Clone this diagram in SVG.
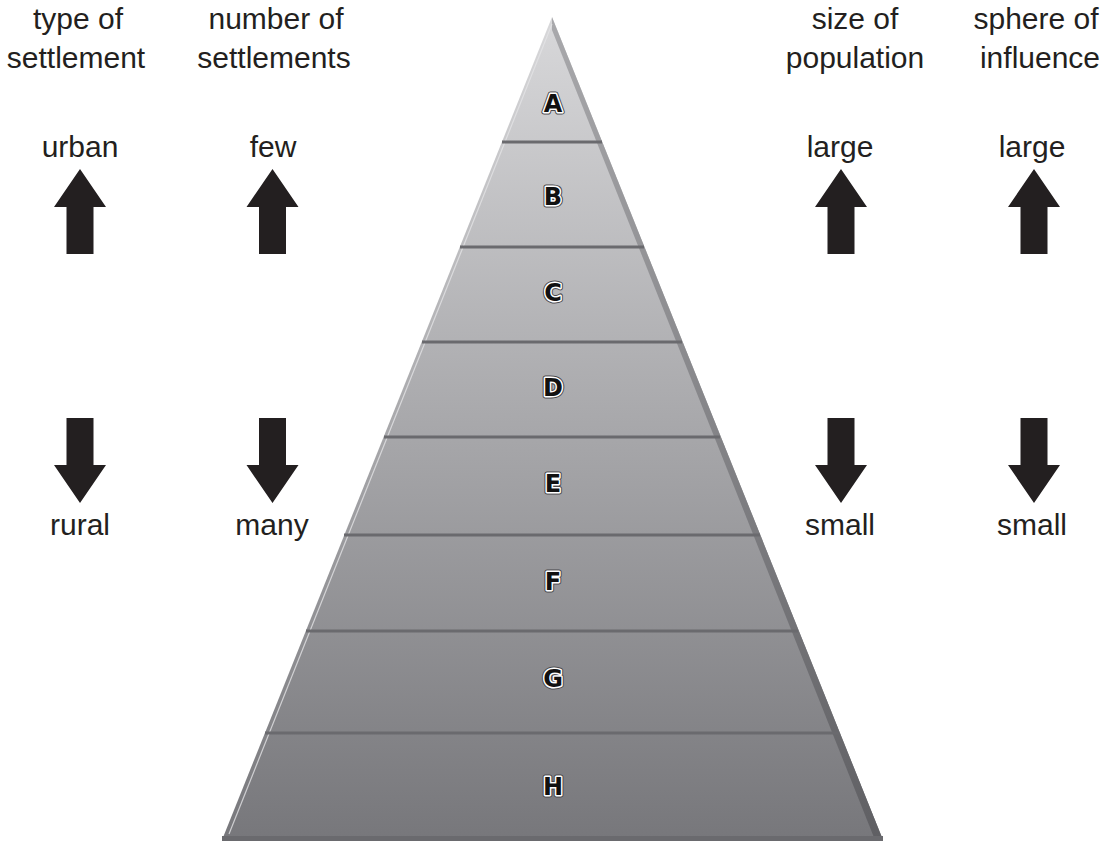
<svg xmlns="http://www.w3.org/2000/svg" width="1103" height="841" viewBox="0 0 1103 841">
  <defs>
    <linearGradient id="pyr" x1="0" y1="17" x2="0" y2="840" gradientUnits="userSpaceOnUse">
      <stop offset="0" stop-color="#d8d8da"/>
      <stop offset="1" stop-color="#77777b"/>
    </linearGradient>
    <linearGradient id="bev" x1="0" y1="17" x2="0" y2="840" gradientUnits="userSpaceOnUse">
      <stop offset="0" stop-color="#a9a9ac"/>
      <stop offset="1" stop-color="#5f5f63"/>
    </linearGradient>
    <path id="up" d="M0,0 L26,38 L13.5,38 L13.5,85 L-13.5,85 L-13.5,38 L-26,38 Z"/>
    <path id="down" d="M0,0 L26,-38 L13.5,-38 L13.5,-85 L-13.5,-85 L-13.5,-38 L-26,-38 Z"/>
  </defs>
  <style>
    .t { font-family: "Liberation Sans", Arial, sans-serif; font-size: 30px; fill: #231f20; text-anchor: middle; }
    .lbl { font-family: "DejaVu Sans", "Liberation Sans", sans-serif; font-size: 24px; font-weight: bold; text-anchor: middle; fill: #111; stroke: #fff; stroke-width: 3; paint-order: stroke; stroke-linejoin: round; }
    .lblo { font-family: "DejaVu Sans", "Liberation Sans", sans-serif; font-size: 24px; font-weight: bold; text-anchor: middle; fill: none; stroke: #4a4a4e; stroke-width: 5; stroke-linejoin: round; }
    .div { stroke: #6a6a6e; stroke-width: 3; }
    .arr { fill: #231f20; }
  </style>
  <rect width="1103" height="841" fill="#fff"/>

  <g id="pyramid">
    <polygon points="552,17 883,840 222,840" fill="url(#pyr)"/>
    <polygon points="552,17 883,840 875,840 552,30" fill="url(#bev)"/>
    <line x1="552" y1="24" x2="229" y2="834" stroke="#e4e4e6" stroke-width="1.2" opacity="0.8"/>
    <rect x="222" y="836" width="661" height="5" fill="#6a6a6e"/>
  </g>

  <g id="dividers">
    <line class="div" x1="502" y1="142" x2="602" y2="142"/>
    <line class="div" x1="460" y1="247" x2="644" y2="247"/>
    <line class="div" x1="422" y1="342" x2="682" y2="342"/>
    <line class="div" x1="384" y1="437" x2="720" y2="437"/>
    <line class="div" x1="344" y1="535" x2="760" y2="535"/>
    <line class="div" x1="306" y1="631" x2="798" y2="631"/>
    <line class="div" x1="265" y1="733" x2="839" y2="733"/>
  </g>

  <g id="levels">
    <g id="level-A"><text class="lblo" x="553" y="112">A</text><text class="lbl" x="553" y="112">A</text></g>
    <g id="level-B"><text class="lblo" x="553" y="205">B</text><text class="lbl" x="553" y="205">B</text></g>
    <g id="level-C"><text class="lblo" x="553" y="301">C</text><text class="lbl" x="553" y="301">C</text></g>
    <g id="level-D"><text class="lblo" x="553" y="396">D</text><text class="lbl" x="553" y="396">D</text></g>
    <g id="level-E"><text class="lblo" x="553" y="492">E</text><text class="lbl" x="553" y="492">E</text></g>
    <g id="level-F"><text class="lblo" x="553" y="590">F</text><text class="lbl" x="553" y="590">F</text></g>
    <g id="level-G"><text class="lblo" x="553" y="687">G</text><text class="lbl" x="553" y="687">G</text></g>
    <g id="level-H"><text class="lblo" x="553" y="795">H</text><text class="lbl" x="553" y="795">H</text></g>
  </g>

  <g id="col-type">
    <text class="t" x="78" y="29">type of</text>
    <text class="t" x="76" y="68">settlement</text>
    <text class="t" x="80" y="157">urban</text>
    <text class="t" x="80" y="535">rural</text>
  </g>
  <g id="col-number">
    <text class="t" x="276" y="29">number of</text>
    <text class="t" x="274" y="68">settlements</text>
    <text class="t" x="273" y="157">few</text>
    <text class="t" x="272" y="535">many</text>
  </g>
  <g id="col-size">
    <text class="t" x="855" y="29">size of</text>
    <text class="t" x="855" y="68">population</text>
    <text class="t" x="840" y="157">large</text>
    <text class="t" x="840" y="535">small</text>
  </g>
  <g id="col-sphere">
    <text class="t" x="1036" y="29">sphere of</text>
    <text class="t" x="1040" y="68">influence</text>
    <text class="t" x="1032" y="157">large</text>
    <text class="t" x="1032" y="535">small</text>
  </g>

  <g id="connectors">
    <use href="#up" class="arr" x="80" y="169"/>
    <use href="#up" class="arr" x="272.5" y="169"/>
    <use href="#up" class="arr" x="841" y="169"/>
    <use href="#up" class="arr" x="1034" y="169"/>
    <use href="#down" class="arr" x="80" y="503"/>
    <use href="#down" class="arr" x="272.5" y="503"/>
    <use href="#down" class="arr" x="841" y="503"/>
    <use href="#down" class="arr" x="1034" y="503"/>
  </g>
</svg>
